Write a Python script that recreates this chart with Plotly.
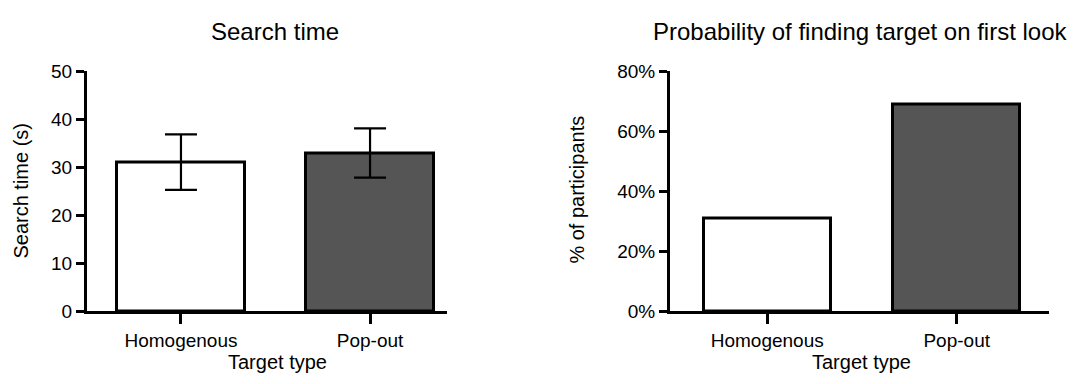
import plotly.graph_objects as go

categories = ["Homogenous", "Pop-out"]
search_time = [31.1, 33.0]
search_err = [5.8, 5.15]
prob_first = [0.31, 0.69]
bar_colors = ["#ffffff", "#555555"]

W, H = 1074, 384
FONT = "Arial, Liberation Sans, sans-serif"

fig = go.Figure()
fig.add_trace(go.Bar(
    x=categories, y=search_time, width=0.675,
    marker=dict(color=bar_colors, line=dict(color="black", width=3)),
    error_y=dict(type="data", array=search_err, visible=True, color="black", thickness=2.2, width=16),
    xaxis="x", yaxis="y", showlegend=False, hoverinfo="skip"))
fig.add_trace(go.Bar(
    x=categories, y=prob_first, width=0.67,
    marker=dict(color=bar_colors, line=dict(color="black", width=3)),
    xaxis="x2", yaxis="y2", showlegend=False, hoverinfo="skip"))


def px_x(p):
    return p / W


def px_y(p):
    return (H - p) / H


ydom = [px_y(318.7), px_y(65.0)]
common_x = dict(showline=True, linecolor="black", linewidth=3, ticks="outside", ticklen=10,
                tickwidth=3, tickcolor="black", showgrid=False, zeroline=False,
                tickfont=dict(family=FONT, size=19, color="black"))
common_y = dict(showline=True, linecolor="black", linewidth=3, ticks="outside", ticklen=8,
                tickwidth=2.5, tickcolor="black", showgrid=False, zeroline=False,
                tickfont=dict(family=FONT, size=19, color="black"), domain=ydom)

fig.update_layout(
    width=W, height=H, margin=dict(l=0, r=0, t=0, b=0),
    paper_bgcolor="white", plot_bgcolor="white", bargap=0,
    xaxis=dict(common_x, domain=[px_x(87), px_x(447)], range=[-0.497, 1.407], anchor="y"),
    yaxis=dict(common_y, range=[0, 50], dtick=10, anchor="x"),
    xaxis2=dict(common_x, domain=[px_x(670), px_x(1049)], range=[-0.513, 1.487], anchor="y2"),
    yaxis2=dict(common_y, range=[0, 0.8], dtick=0.2, tickformat=".0%", anchor="x2"),
)

ann = [
    dict(text="Search time", x=px_x(275), y=px_y(23), size=24, angle=0),
    dict(text="Probability of finding target on first look", x=px_x(860), y=px_y(23), size=24, angle=0),
    dict(text="Target type", x=px_x(277), y=px_y(372), size=20, angle=0),
    dict(text="Target type", x=px_x(861), y=px_y(372), size=20, angle=0),
    dict(text="Search time (s)", x=px_x(21), y=px_y(191), size=20, angle=-90),
    dict(text="% of participants", x=px_x(577), y=px_y(190), size=20, angle=-90),
]
for a in ann:
    fig.add_annotation(text=a["text"], x=a["x"], y=a["y"], xref="paper", yref="paper",
                       xanchor="center", yanchor="middle", showarrow=False, textangle=a["angle"],
                       font=dict(family=FONT, size=a["size"], color="black"))

fig.write_html("out.html", config={"displayModeBar": False},
               post_script="document.body.style.margin='0px';document.body.style.overflow='hidden';")
